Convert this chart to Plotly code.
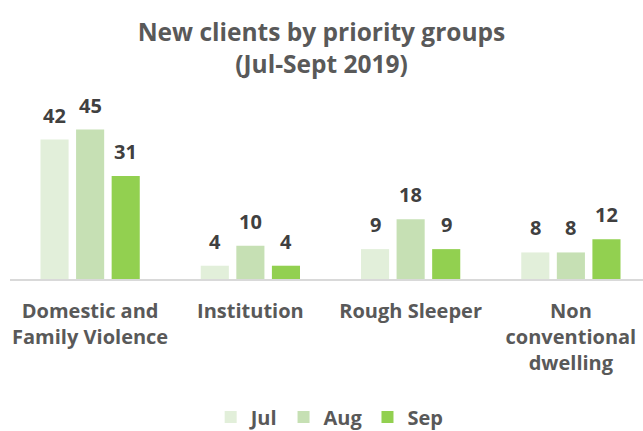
import plotly.graph_objects as go

categories = ["Domestic and<br>Family Violence", "Institution", "Rough Sleeper", "Non<br>conventional<br>dwelling"]
months = ["Jul", "Aug", "Sep"]
jul = [42, 4, 9, 8]
aug = [45, 10, 18, 8]
sep = [31, 4, 9, 12]
colors = ["#e2efda", "#c6e0b4", "#92d050"]

FONT = "Open Sans"
BARGAP = 0.334
BARGROUPGAP = 0.21
X0, X1 = -0.5, 3.45
L, R, T, B, W, H = 10, 0, 113, 152, 643, 431

fig = go.Figure()
px_per_cat = (W - L - R) / (X1 - X0)
slot = px_per_cat * (1 - BARGAP) / 3
for i, (name, vals, col) in enumerate(zip(months, [jul, aug, sep], colors)):
    fig.add_trace(go.Bar(
        x=categories, y=vals, name=name, marker=dict(color=col, line=dict(width=0)),
    ))
    for c, v in zip(categories, vals):
        fig.add_annotation(x=c, y=v, xref="x", yref="y", text=str(v), showarrow=False,
                           xanchor="center", yanchor="bottom", xshift=(i - 1) * slot, yshift=9,
                           font=dict(family=FONT, size=20, color="#404040", weight="bold"))

fig.update_layout(
    width=W, height=H,
    margin=dict(l=L, r=R, t=T, b=B, autoexpand=False),
    paper_bgcolor="white", plot_bgcolor="white",
    barmode="group", bargap=BARGAP, bargroupgap=BARGROUPGAP,
    title=dict(text="New clients by priority groups<br>(Jul-Sept 2019)", x=0.5, xanchor="center",
               yref="container", y=1 - 41 / H, yanchor="middle",
               font=dict(family=FONT, size=24.5, color="#595959", weight="bold")),
    legend=dict(orientation="h", x=0.505, xanchor="center", yref="container", y=(H - 417) / H,
                yanchor="middle",
                font=dict(family=FONT, size=20, color="#595959", weight="bold"),
                itemwidth=30, traceorder="normal"),
    showlegend=True,
)
fig.update_xaxes(range=[X0, X1], showline=True, linecolor="#d9d9d9", linewidth=2,
                 ticks="outside", ticklen=13, tickcolor="rgba(0,0,0,0)", automargin=False,
                 tickfont=dict(family=FONT, size=20, color="#595959", weight="bold"),
                 showgrid=False, fixedrange=True)
fig.update_yaxes(range=[0, 50], visible=False, showgrid=False, fixedrange=True, automargin=False)
fig.write_html("out.html", config={"displayModeBar": False},
               post_script="document.body.style.margin='0';document.body.style.overflow='hidden';")
